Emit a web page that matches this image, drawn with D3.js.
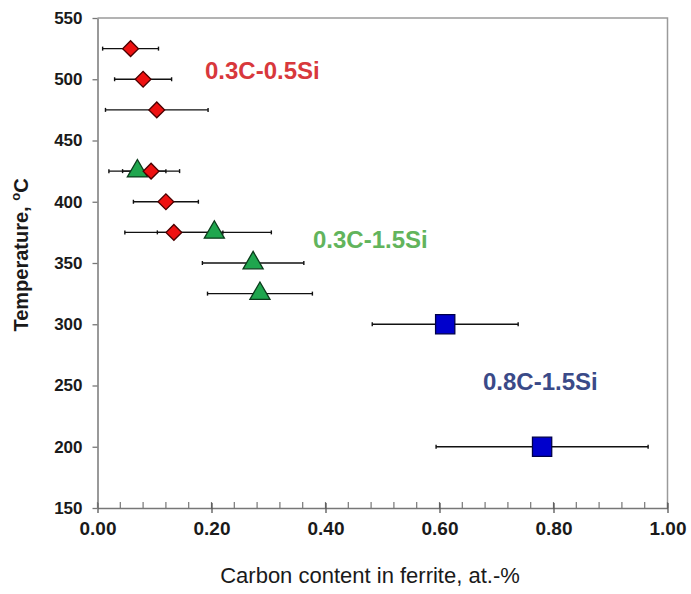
<!DOCTYPE html>
<html>
<head>
<meta charset="utf-8">
<script src="https://cdn.jsdelivr.net/npm/d3@7"></script>
<style>
  body { margin: 0; background: #fff; }
  svg { display: block; font-family: Arial, "Liberation Sans", sans-serif; }
</style>
</head>
<body>
<div id="chart"></div>
<script>
// data (carbon at.-% with +/- error, temperature in C)
const redTemp = [525, 500, 475, 425, 400, 375];
const redCarbon = [0.058, 0.080, 0.104, 0.094, 0.120, 0.134];
const redErr = [0.049, 0.050, 0.090, 0.050, 0.057, 0.086];

const greenTemp = [425, 375, 350, 325];
const greenCarbon = [0.070, 0.205, 0.273, 0.285];
const greenErr = [0.050, 0.100, 0.089, 0.092];

const blueTemp = [300, 200];
const blueCarbon = [0.610, 0.780];
const blueErr = [0.128, 0.186];

const xTicks = [0, 0.2, 0.4, 0.6, 0.8, 1.0];
const xMinorTicks = d3.range(0, 1.0001, 0.04);
const yTicks = [150, 200, 250, 300, 350, 400, 450, 500, 550];

const labels = ["0.3C-0.5Si", "0.3C-1.5Si", "0.8C-1.5Si"];

const width = 691, height = 594;
const margin = { left: 97.5, right: 23.5, top: 18, bottom: 86 };

const svg = d3.select("#chart").append("svg")
  .attr("width", width)
  .attr("height", height);

const x = d3.scaleLinear().domain([0, 1]).range([margin.left, width - margin.right]);
const y = d3.scaleLinear().domain([150, 550]).range([height - margin.bottom, margin.top]);

// plot border (top + right)
svg.append("path")
  .attr("d", `M${x(0)},${y(550)}H${x(1)}V${y(150)}`)
  .attr("fill", "none")
  .attr("stroke", "#9a9a9a")
  .attr("stroke-width", 1.5);

// x axis: minor ticks point inwards, major ticks cross
svg.append("g")
  .selectAll("line")
  .data(xMinorTicks)
  .join("line")
  .attr("x1", d => x(d)).attr("x2", d => x(d))
  .attr("y1", y(150)).attr("y2", y(150) - 6)
  .attr("stroke", "#777").attr("stroke-width", 1.2);

const xAxis = svg.append("g")
  .attr("transform", `translate(0,${y(150)})`)
  .call(d3.axisBottom(x).tickValues(xTicks).tickFormat(d3.format(".2f")).tickSize(5).tickSizeOuter(0));
xAxis.select(".domain").attr("stroke", "#777").attr("stroke-width", 1.5);
xAxis.selectAll(".tick line").attr("stroke", "#555").attr("stroke-width", 1.3).attr("y1", -5);
xAxis.selectAll(".tick text")
  .attr("y", 14).attr("dy", "0.71em")
  .attr("fill", "#1a1a1a")
  .style("font-size", "19px").style("font-weight", "bold");

const yAxis = svg.append("g")
  .attr("transform", `translate(${x(0)},0)`)
  .call(d3.axisLeft(y).tickValues(yTicks).tickSize(5).tickSizeOuter(0).tickPadding(10));
yAxis.select(".domain").attr("stroke", "#777").attr("stroke-width", 1.5);
yAxis.selectAll(".tick line").attr("stroke", "#777").attr("stroke-width", 1.3);
yAxis.selectAll(".tick text")
  .attr("fill", "#1a1a1a")
  .style("font-size", "17px").style("font-weight", "bold");

// axis titles
svg.append("text")
  .attr("x", 370).attr("y", 583)
  .attr("text-anchor", "middle")
  .attr("fill", "#1a1a1a")
  .style("font-size", "22px")
  .text("Carbon content in ferrite, at.-%");

const yTitle = svg.append("text")
  .attr("transform", "translate(28,255) rotate(-90)")
  .attr("text-anchor", "middle")
  .attr("fill", "#1a1a1a")
  .style("font-size", "20px").style("font-weight", "bold");
yTitle.append("tspan").text("Temperature, ");
yTitle.append("tspan").attr("dy", -8).style("font-size", "13px").text("o");
yTitle.append("tspan").attr("dy", 8).text("C");

// series
const toPoints = (temps, carbon, err) => temps.map((t, i) => ({ t, c: carbon[i], e: err[i] }));
const red = toPoints(redTemp, redCarbon, redErr);
const green = toPoints(greenTemp, greenCarbon, greenErr);
const blue = toPoints(blueTemp, blueCarbon, blueErr);

function drawErrorBars(data) {
  const g = svg.append("g").attr("stroke", "#111").attr("stroke-width", 1.4);
  g.selectAll(".bar").data(data).join("line")
    .attr("x1", d => x(d.c - d.e)).attr("x2", d => x(d.c + d.e))
    .attr("y1", d => y(d.t)).attr("y2", d => y(d.t));
  g.selectAll(".capL").data(data).join("line")
    .attr("x1", d => x(d.c - d.e)).attr("x2", d => x(d.c - d.e))
    .attr("y1", d => y(d.t) - 2).attr("y2", d => y(d.t) + 2);
  g.selectAll(".capR").data(data).join("line")
    .attr("x1", d => x(d.c + d.e)).attr("x2", d => x(d.c + d.e))
    .attr("y1", d => y(d.t) - 2).attr("y2", d => y(d.t) + 2);
}

drawErrorBars(red);
drawErrorBars(green);
drawErrorBars(blue);

function drawMarkers(data, symbol, size, fill, stroke, rotate) {
  svg.append("g").selectAll("path").data(data).join("path")
    .attr("d", d3.symbol().type(symbol).size(size))
    .attr("transform", d => `translate(${x(d.c)},${y(d.t)}) rotate(${rotate})`)
    .attr("fill", fill)
    .attr("stroke", stroke)
    .attr("stroke-width", 1.3);
}

drawMarkers(green, d3.symbolTriangle, 175, "#1fa64e", "#0b3b1b", 0);
drawMarkers(red, d3.symbolSquare, 125, "#ee1111", "#4a0000", 45);
drawMarkers(blue, d3.symbolSquare, 370, "#0000cc", "#00004a", 0);

// series labels
const labelPos = [
  { x: 205, y: 79, color: "#d8383c" },
  { x: 313, y: 248, color: "#62b45c" },
  { x: 483, y: 390, color: "#3a4a88" }
];
svg.append("g").selectAll("text").data(labels).join("text")
  .attr("x", (d, i) => labelPos[i].x)
  .attr("y", (d, i) => labelPos[i].y)
  .attr("fill", (d, i) => labelPos[i].color)
  .style("font-size", "24px").style("font-weight", "bold")
  .text(d => d);
</script>
</body>
</html>
